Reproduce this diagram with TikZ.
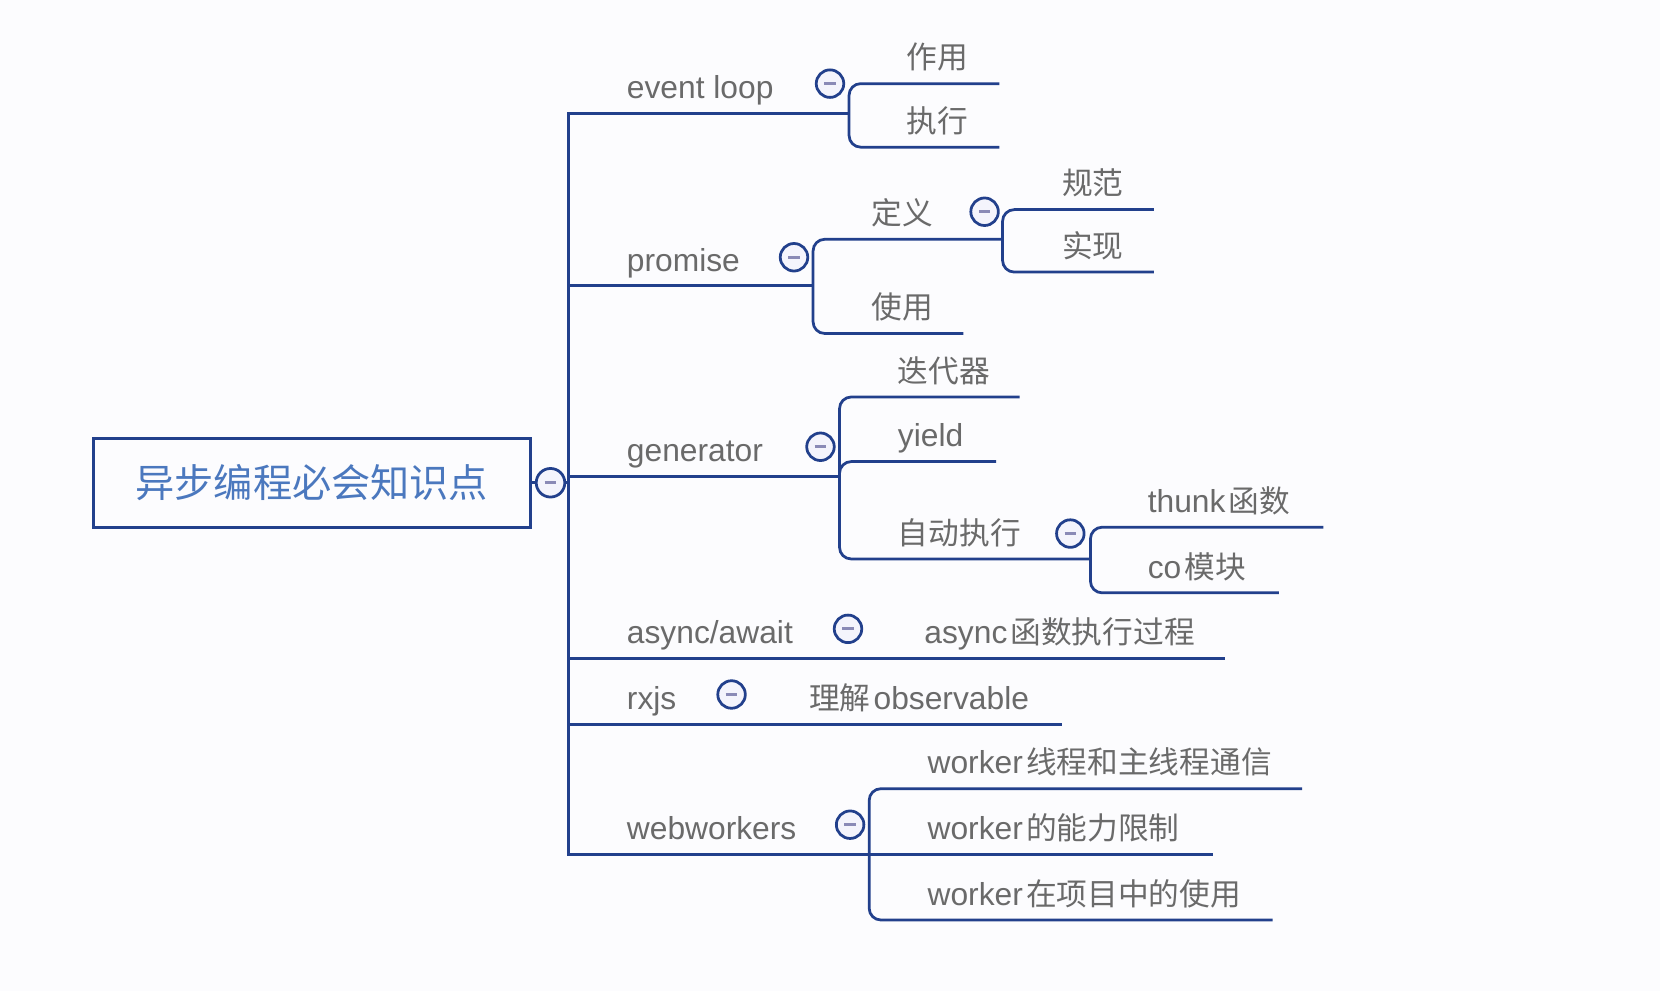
\documentclass[tikz,border=0pt]{standalone}
\usepackage{fontspec}
\setmainfont{Liberation Sans}
\newfontfamily\cjkfont{Noto Sans CJK SC}
\newcommand{\cj}[1]{{\cjkfont\fontsize{29}{34}\selectfont #1}}
\newcommand{\gapx}{\hspace{3pt}}
\definecolor{navy}{HTML}{22408C}
\definecolor{txtgrey}{HTML}{6A6A6A}
\definecolor{roottxt}{HTML}{4B78BE}
\definecolor{minuscol}{HTML}{8A8AB6}
\definecolor{cfill}{HTML}{F4F4FC}
\definecolor{bgcol}{HTML}{FCFCFE}
\tikzset{
  conn/.style={draw=navy, line width=2.6pt},
  brk/.style={conn, rounded corners=11pt},
  lbl/.style={anchor=base west, inner sep=0pt, text=txtgrey, font=\fontsize{30}{36}\selectfont},
  tog/.style={circle, draw=navy, fill=cfill, line width=2.6pt, minimum size=26pt, inner sep=0pt,
    path picture={\draw[minuscol, line width=2.6pt]
      ([xshift=-5.5pt]path picture bounding box.center) -- ([xshift=5.5pt]path picture bounding box.center);}},
  rootbox/.style={draw=navy, line width=2.6pt, minimum width=413pt, minimum height=84pt, inner sep=0pt,
    text=roottxt, font=\cjkfont\fontsize{37}{44}\selectfont},
}
\begin{document}
\begin{tikzpicture}[x=1pt, y=-1pt]
\useasboundingbox (0,0) rectangle (1568,936);
\fill[bgcol] (0,0) rectangle (1568,936);

% root
\node[rootbox] (root) at (294.5,456) {异步编程必会知识点};
\node[tog, minimum size=27pt] (rc) at (520,456) {};
\draw[conn] (root.east) -- (rc.west);

% spine
\coordinate (sT) at (537,107);
\coordinate (sB) at (537,807);
\coordinate (sR) at (537,456);
\coordinate (elJ) at (802,107);
\coordinate (wwE) at (1146,807);
\draw[conn] (elJ) -- (sT) -- (sB) -- (wwE);
\draw[conn] (rc.east) -- (sR);

% event loop
\node[lbl] (el) at (592,93) {event loop};
\node[tog] (elT) at (784,79) {};
\coordinate (elA) at (802,79);
\coordinate (elB) at (802,139);
\coordinate (zyE) at (944,79);
\coordinate (zxE) at (944,139);
\draw[brk] (zyE) -- (elA) -- (elB) -- (zxE);
\node[lbl] (zy) at (856,65) {\cj{作用}};
\node[lbl] (zx) at (856,125) {\cj{执行}};

% promise
\coordinate (prS) at (537,270);
\coordinate (prJ) at (768,270);
\draw[conn] (prS) -- (prJ);
\node[lbl] (pr) at (592,256) {promise};
\node[tog] (prT) at (750,243) {};
\coordinate (prA) at (768,226);
\coordinate (prB) at (768,315);
\coordinate (dyJ) at (947,226);
\coordinate (syE) at (910,315);
\draw[brk] (syE) -- (prB) -- (prA) -- (dyJ);
\node[lbl] (dy) at (823,212) {\cj{定义}};
\node[lbl] (sy) at (823,301) {\cj{使用}};
\node[tog] (dyT) at (930,200) {};
\coordinate (dyA) at (947,198);
\coordinate (dyB) at (947,257);
\coordinate (gfE) at (1090,198);
\coordinate (sxE) at (1090,257);
\draw[brk] (gfE) -- (dyA) -- (dyB) -- (sxE);
\node[lbl] (gf) at (1003,184) {\cj{规范}};
\node[lbl] (sx) at (1003,243) {\cj{实现}};

% generator
\coordinate (gnS) at (537,450);
\coordinate (gnJ) at (793,450);
\draw[conn] (gnS) -- (gnJ);
\node[lbl] (gn) at (592,436) {generator};
\node[tog] (gnT) at (775,422) {};
\coordinate (gnA) at (793,375);
\coordinate (gnB) at (793,528);
\coordinate (ddE) at (963,375);
\coordinate (zdJ) at (1030,528);
\draw[brk] (ddE) -- (gnA) -- (gnB) -- (zdJ);
\coordinate (ydA) at (793,436);
\coordinate (ydB) at (793,452);
\coordinate (ydE) at (941,436);
\draw[brk] (ydE) -- (ydA) -- (ydB);
\node[lbl] (dd) at (848,361) {\cj{迭代器}};
\node[lbl] (yd) at (848,422) {yield};
\node[lbl] (zd) at (848,514) {\cj{自动执行}};
\node[tog] (zdT) at (1011,504) {};
\coordinate (zdA) at (1030,498);
\coordinate (zdB) at (1030,560);
\coordinate (thE) at (1250,498);
\coordinate (coE) at (1208,560);
\draw[brk] (thE) -- (zdA) -- (zdB) -- (coE);
\node[lbl] (th) at (1084,484) {thunk\gapx\cj{函数}};
\node[lbl] (co) at (1084,546) {co\gapx\cj{模块}};

% async/await
\coordinate (asS) at (537,622);
\coordinate (asE) at (1157,622);
\draw[conn] (asS) -- (asE);
\node[lbl] (as) at (592,608) {async/await};
\node[tog] (asT) at (801,594) {};
\node[lbl] (asC) at (873,608) {async\gapx\cj{函数执行过程}};

% rxjs
\coordinate (rxS) at (537,684);
\coordinate (rxE) at (1003,684);
\draw[conn] (rxS) -- (rxE);
\node[lbl] (rx) at (592,670) {rxjs};
\node[tog] (rxT) at (691,656) {};
\node[lbl] (rxC) at (764,670) {\cj{理解}\gapx observable};

% webworkers
\node[lbl] (ww) at (592,793) {webworkers};
\node[tog] (wwT) at (803,779) {};
\coordinate (wwA) at (821,745);
\coordinate (wwB) at (821,869);
\coordinate (w1E) at (1230,745);
\coordinate (w3E) at (1202,869);
\draw[brk] (w1E) -- (wwA) -- (wwB) -- (w3E);
\node[lbl] (w1) at (876,731) {worker\gapx\cj{线程和主线程通信}};
\node[lbl] (w2) at (876,793) {worker\gapx\cj{的能力限制}};
\node[lbl] (w3) at (876,855) {worker\gapx\cj{在项目中的使用}};
\end{tikzpicture}
\end{document}
